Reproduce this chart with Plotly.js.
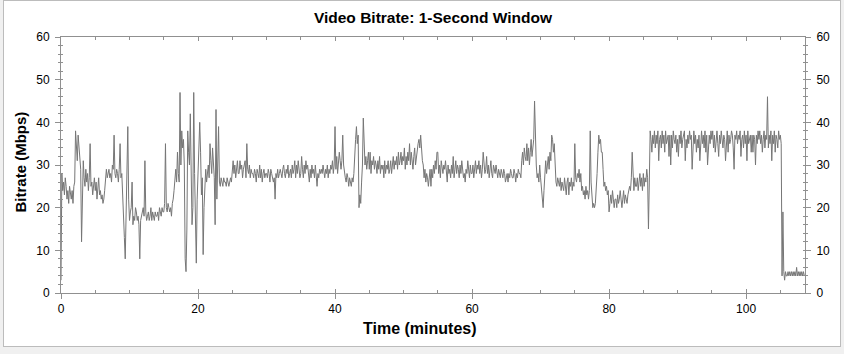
<!DOCTYPE html>
<html><head><meta charset="utf-8">
<script src="https://cdn.plot.ly/plotly-3.0.1.min.js"></script>
<style>
html,body{margin:0;padding:0;background:#f0f0f0;width:844px;height:354px;overflow:hidden}
#panel{position:absolute;left:3px;top:0px;width:836px;height:345px;background:#fff;border:1px solid #bcbcbc}
#chart{position:absolute;left:0;top:0;width:844px;height:354px}
</style></head><body>
<div id="panel"></div><div id="chart"></div>
<script>
// Sampling step of the series (minutes)
const timeStepMin = 0.125;
// Video bitrate (Mbps), 8 samples per minute (one row per minute)
const bitrateMbps = [
  3,28,24,26,23,27,25,22,     // 0
  24,21,25,23,22,24,21,25,    // 1
  26,38,35,31,37,34,33,29,    // 2
  12,26,31,27,25,29,26,28,    // 3
  24,27,35,25,26,23,25,27,    // 4
  24,26,22,25,27,23,24,22,    // 5
  23,21,22,24,26,29,27,28,    // 6
  29,27,28,26,30,29,37,28,    // 7
  27,29,28,26,29,35,27,28,    // 8
  24,18,13,8,20,24,39,22,     // 9
  17,19,20,26,16,18,17,20,    // 10
  19,17,18,16,8,17,18,19,     // 11
  20,18,31,19,17,18,19,17,    // 12
  18,20,17,19,18,17,19,18,    // 13
  18,19,17,20,19,18,20,19,    // 14
  19,21,35,20,19,21,20,19,    // 15
  20,18,21,22,24,27,29,26,    // 16
  33,28,26,47,30,38,34,36,    // 17
  30,8,5,15,38,33,30,42,      // 18
  24,16,20,47,28,15,7,22,     // 19
  30,38,40,33,23,27,9,20,     // 20
  27,29,26,28,30,27,35,31,    // 21
  28,34,30,27,16,43,22,30,    // 22
  39,26,25,27,26,25,27,26,    // 23
  26,25,27,26,25,26,27,26,    // 24
  29,31,28,30,27,29,31,28,    // 25
  28,31,29,30,27,29,30,31,    // 26
  27,35,29,28,30,27,29,28,    // 27
  28,27,29,28,26,29,28,27,    // 28
  30,27,29,26,28,29,27,28,    // 29
  28,27,29,28,26,29,28,27,    // 30
  26,27,22,28,27,29,27,28,    // 31
  29,28,27,29,30,28,27,29,    // 32
  28,30,27,28,29,27,30,28,    // 33
  29,31,27,30,28,31,29,27,    // 34
  28,32,29,27,30,28,31,29,    // 35
  30,28,26,29,27,30,28,29,    // 36
  27,30,28,25,28,27,29,28,    // 37
  29,28,30,28,27,29,28,30,    // 38
  27,29,28,30,29,31,28,30,    // 39
  39,29,32,28,30,33,31,29,    // 40
  31,37,30,28,27,26,28,27,    // 41
  25,27,26,25,27,26,28,35,    // 42
  36,39,35,37,20,23,21,26,    // 43
  30,41,33,30,32,29,31,33,    // 44
  29,33,28,31,30,32,29,31,    // 45
  30,28,31,29,32,28,30,29,    // 46
  30,27,31,28,30,29,31,28,    // 47
  29,31,28,30,32,29,31,30,    // 48
  32,29,33,30,31,33,30,32,    // 49
  31,34,29,32,30,33,31,35,    // 50
  30,33,31,29,32,34,30,32,    // 51
  33,35,36,34,37,33,31,30,    // 52
  27,29,26,28,27,25,28,29,    // 53
  25,29,27,30,28,31,29,33,    // 54
  33,28,30,27,31,29,28,30,    // 55
  29,31,28,26,30,28,29,27,    // 56
  30,28,32,27,29,31,28,30,    // 57
  29,27,30,28,31,29,27,28,    // 58
  26,29,28,31,29,27,30,28,    // 59
  28,30,27,29,31,28,30,29,    // 60
  31,28,30,27,29,33,30,28,    // 61
  29,32,28,30,27,29,31,28,    // 62
  27,30,29,28,30,28,27,29,    // 63
  28,27,29,28,27,29,28,26,    // 64
  27,28,26,28,27,29,28,27,    // 65
  27,29,28,26,28,27,29,28,    // 66
  28,27,31,33,30,34,32,31,    // 67
  35,31,34,30,33,36,32,34,    // 68
  36,45,33,30,27,28,26,30,    // 69
  27,24,22,20,24,29,31,28,    // 70
  30,32,29,33,31,37,36,33,    // 71
  35,30,26,25,27,26,25,27,    // 72
  24,26,25,24,27,25,23,26,    // 73
  27,23,26,25,27,24,26,25,    // 74
  35,27,26,28,27,29,26,28,    // 75
  24,25,23,24,22,25,23,24,    // 76
  22,24,38,26,21,20,21,20,    // 77
  21,24,28,33,37,35,36,33,    // 78
  33,29,25,26,24,25,23,24,    // 79
  19,21,23,21,24,22,20,22,    // 80
  22,20,23,21,22,24,21,20,    // 81
  22,24,21,23,22,21,23,24,    // 82
  25,24,27,33,26,24,27,25,    // 83
  25,27,24,26,28,25,27,24,    // 84
  28,25,27,26,29,27,15,26,    // 85
  38,36,33,37,35,38,34,37,    // 86
  35,38,31,36,37,34,38,35,    // 87
  37,33,38,35,36,37,32,37,    // 88
  30,37,34,38,36,35,37,33,    // 89
  36,32,37,35,38,34,36,37,    // 90
  38,31,36,34,37,35,38,36,    // 91
  37,29,36,38,35,37,33,36,    // 92
  34,37,31,36,38,35,37,34,    // 93
  38,33,37,30,36,37,35,38,    // 94
  36,38,34,37,33,36,38,35,    // 95
  32,37,35,38,36,34,37,36,    // 96
  31,36,38,33,37,35,36,38,    // 97
  37,34,29,37,36,38,35,37,    // 98
  36,38,32,36,37,34,38,35,    // 99
  37,31,38,35,36,37,33,37,    // 100
  33,37,36,30,37,35,38,36,    // 101
  38,35,37,33,36,38,34,37,    // 102
  36,46,34,37,35,38,31,37,    // 103
  35,38,33,37,36,34,38,36,    // 104
  37,35,4,19,5,3,5,4,         // 105
  4,5,4,5,4,5,4,5,            // 106
  4,5,4,6,4,5,4,5,            // 107
  4,5,4,5,4                   // 108
];
const timeMin = bitrateMbps.map((_, i) => i * timeStepMin);

const xTickVals = [0, 20, 40, 60, 80, 100];
const yTickVals = [0, 10, 20, 30, 40, 50, 60];

const FONT = 'Arial, "Liberation Sans", sans-serif';
const LINE = '#909090';
const XR = [0, 108.6], YR = [0, 60];

const data = [
  {type: 'scatter', mode: 'lines', x: timeMin, y: bitrateMbps,
   line: {color: '#767676', width: 1}, hoverinfo: 'skip'},
  // empty traces so the helper axes are drawn
  {type: 'scatter', mode: 'lines', x: [], y: [], xaxis: 'x', yaxis: 'y2', hoverinfo: 'skip'},
  {type: 'scatter', mode: 'lines', x: [], y: [], xaxis: 'x2', yaxis: 'y', hoverinfo: 'skip'},
  {type: 'scatter', mode: 'lines', x: [], y: [], xaxis: 'x', yaxis: 'y3', hoverinfo: 'skip'}
];

const baseX = {range: XR, autorange: false, showgrid: false, zeroline: false, fixedrange: true};
const baseY = {range: YR, autorange: false, showgrid: false, zeroline: false, fixedrange: true};
const tickFont = {size: 12, family: FONT, color: '#000'};

const layout = {
  width: 844, height: 354,
  margin: {l: 61, r: 39, t: 37, b: 61, pad: 0},
  paper_bgcolor: 'rgba(0,0,0,0)', plot_bgcolor: 'rgba(0,0,0,0)',
  showlegend: false,
  font: {family: FONT, size: 12, color: '#000'},
  title: {text: '<b>Video Bitrate: 1-Second Window</b>', x: 0.513, xanchor: 'center',
          y: 0.95, yref: 'container', yanchor: 'middle', font: {size: 15.5, family: FONT, color: '#000'}},
  xaxis: Object.assign({}, baseX, {
    tickmode: 'array', tickvals: xTickVals, ticks: 'outside', ticklen: 5, tickcolor: LINE,
    showline: true, linecolor: LINE, linewidth: 1, mirror: true, anchor: 'y',
    tickfont: tickFont
  }),
  xaxis2: Object.assign({}, baseX, {
    overlaying: 'x', anchor: 'y', side: 'bottom', showticklabels: false, showline: false,
    tickmode: 'array', tickvals: xTickVals, ticks: 'inside', ticklen: 4, tickcolor: LINE, mirror: 'ticks',
    minor: {dtick: 5, tick0: 0, ticks: 'inside', ticklen: 3, tickcolor: LINE}
  }),
  yaxis: Object.assign({}, baseY, {
    tickmode: 'array', tickvals: yTickVals, ticks: 'outside', ticklen: 5, tickcolor: LINE,
    showline: true, linecolor: LINE, linewidth: 1, anchor: 'x', side: 'left', ticklabelstandoff: 3,
    minor: {dtick: 2, tick0: 0, ticks: 'outside', ticklen: 2, tickcolor: LINE},
    tickfont: tickFont
  }),
  yaxis2: Object.assign({}, baseY, {
    overlaying: 'y', anchor: 'x', side: 'right', ticklabelstandoff: 3,
    tickmode: 'array', tickvals: yTickVals, ticks: 'outside', ticklen: 5, tickcolor: LINE,
    showline: true, linecolor: LINE, linewidth: 1,
    minor: {dtick: 2, tick0: 0, ticks: 'outside', ticklen: 2, tickcolor: LINE},
    tickfont: tickFont
  }),
  yaxis3: Object.assign({}, baseY, {
    overlaying: 'y', anchor: 'x', side: 'left', showticklabels: false, showline: false,
    tickmode: 'array', tickvals: yTickVals, ticks: 'inside', ticklen: 2, tickcolor: LINE, mirror: 'ticks',
    minor: {dtick: 2, tick0: 0, ticks: 'inside', ticklen: 2, tickcolor: LINE}
  }),
  annotations: [
    {text: '<b>Bitrate (Mbps)</b>', xref: 'paper', yref: 'paper', x: -0.055, y: 0.51,
     xanchor: 'center', yanchor: 'middle', textangle: -90, showarrow: false,
     font: {size: 15, family: FONT, color: '#000'}},
    {text: '<b>Time (minutes)</b>', xref: 'paper', yref: 'paper', x: 0.4825, y: -0.137,
     xanchor: 'center', yanchor: 'middle', showarrow: false,
     font: {size: 16, family: FONT, color: '#000'}}
  ]
};

Plotly.newPlot('chart', data, layout, {displayModeBar: false, staticPlot: true});
</script></body></html>
